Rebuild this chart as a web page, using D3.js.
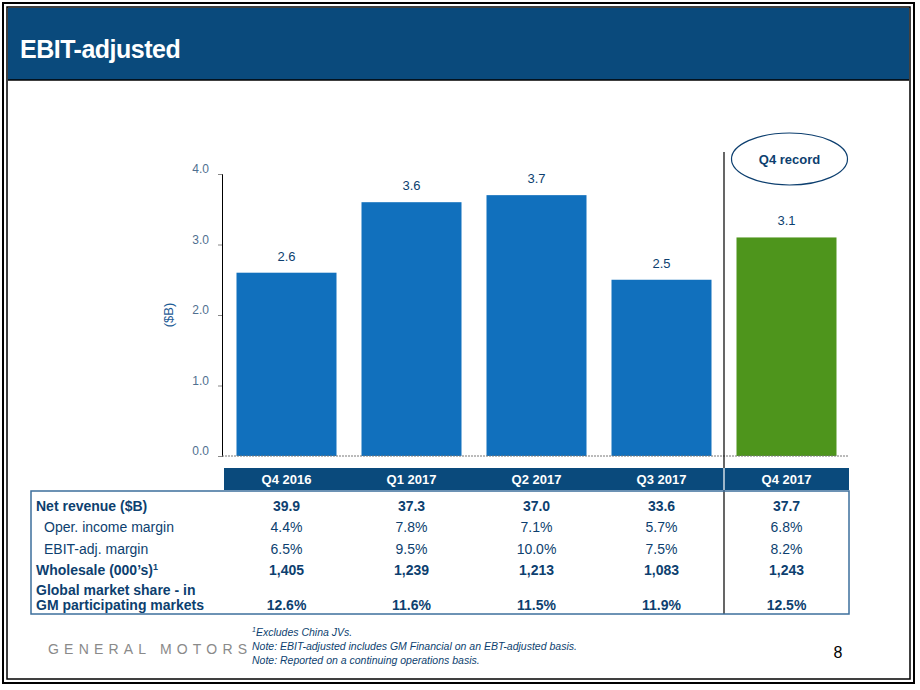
<!DOCTYPE html>
<html>
<head>
<meta charset="utf-8">
<script src="https://cdn.jsdelivr.net/npm/d3@7"></script>
<style>
  body { margin: 0; background: #fff; }
  text { font-family: Arial, "Liberation Sans", sans-serif; }
</style>
</head>
<body>
<div id="chart"></div>
<script>
// Chart data
const quarters = ["Q4 2016", "Q1 2017", "Q2 2017", "Q3 2017", "Q4 2017"];
const ebitValues = [2.6, 3.6, 3.7, 2.5, 3.1];
const yTicks = [0, 1, 2, 3, 4];

// Table data
const rowLabels = ["Net revenue ($B)", "Oper. income margin", "EBIT-adj. margin", "Wholesale (000\u2019s)", "Global market share - in|GM participating markets"];
const netRevenue = ["39.9", "37.3", "37.0", "33.6", "37.7"];
const operMargin = ["4.4%", "7.8%", "7.1%", "5.7%", "6.8%"];
const ebitMargin = ["6.5%", "9.5%", "10.0%", "7.5%", "8.2%"];
const wholesale = ["1,405", "1,239", "1,213", "1,083", "1,243"];
const marketShare = ["12.6%", "11.6%", "11.5%", "11.9%", "12.5%"];

const W = 920, H = 690;
const navy = "#0a4a7c", barBlue = "#1170bd", barGreen = "#4e951c", txt = "#0d3f6f";

const svg = d3.select("#chart").append("svg").attr("width", W).attr("height", H);

// Frame
svg.append("rect").attr("x", 3).attr("y", 3).attr("width", 911).attr("height", 680)
  .attr("fill", "none").attr("stroke", "#000").attr("stroke-width", 2);
svg.append("rect").attr("x", 7).attr("y", 7).attr("width", 903).attr("height", 672)
  .attr("fill", "none").attr("stroke", "#000").attr("stroke-width", 1.5);

// Header
svg.append("rect").attr("x", 8).attr("y", 8).attr("width", 901).attr("height", 72).attr("fill", navy);
svg.append("line").attr("x1", 8).attr("x2", 909).attr("y1", 80).attr("y2", 80).attr("stroke", "#000").attr("stroke-width", 1.5);
svg.append("text").attr("x", 20).attr("y", 58).attr("fill", "#fff")
  .attr("font-size", 25).attr("font-weight", "bold").attr("letter-spacing", -0.5).text("EBIT-adjusted");

// Scales
const x = d3.scaleBand().domain(quarters).range([224, 849]).paddingInner(0.2).paddingOuter(0.1);
const y = d3.scaleLinear().domain([0, 4]).range([456, 174]);

// Y axis
const yAxis = svg.append("g").attr("transform", "translate(222,0)")
  .call(d3.axisLeft(y).tickValues(yTicks).tickFormat(d3.format(".1f")).tickSize(4));
yAxis.select(".domain").attr("stroke", "#000");
yAxis.selectAll("line").attr("stroke", "#888");
yAxis.selectAll("text").attr("fill", "#4f6f90").attr("font-size", 12).attr("dx", -6).attr("dy", "-0.1em");

svg.append("text").attr("transform", "translate(173,315) rotate(-90)")
  .attr("text-anchor", "middle").attr("fill", "#1f5c96").attr("font-size", 13).text("($B)");

// Bars
svg.selectAll(".bar").data(ebitValues).enter().append("rect")
  .attr("x", (d, i) => x(quarters[i]))
  .attr("y", d => y(d))
  .attr("width", x.bandwidth())
  .attr("height", d => y(0) - y(d))
  .attr("fill", (d, i) => i === quarters.length - 1 ? barGreen : barBlue);

svg.selectAll(".vlabel").data(ebitValues).enter().append("text")
  .attr("x", (d, i) => x(quarters[i]) + x.bandwidth() / 2)
  .attr("y", d => y(d) - 12)
  .attr("text-anchor", "middle").attr("fill", txt).attr("font-size", 13)
  .text(d => d.toFixed(1));

// Baseline
svg.append("line").attr("x1", 222).attr("x2", 849).attr("y1", y(0)).attr("y2", y(0))
  .attr("stroke", "#777").attr("stroke-dasharray", "2,1");

// Separator line
const sepX = x(quarters[4]) - (x.step() - x.bandwidth()) / 2;
svg.append("line").attr("x1", sepX).attr("x2", sepX).attr("y1", 152).attr("y2", 614)
  .attr("stroke", "#000").attr("stroke-width", 1.2);

// Record callout
svg.append("ellipse").attr("cx", x(quarters[4]) + x.bandwidth() / 2 + 3).attr("cy", 159)
  .attr("rx", 58).attr("ry", 26).attr("fill", "none").attr("stroke", txt).attr("stroke-width", 1.2);
svg.append("text").attr("x", x(quarters[4]) + x.bandwidth() / 2 + 3).attr("y", 164)
  .attr("text-anchor", "middle").attr("fill", txt).attr("font-size", 13).attr("font-weight", "bold").text("Q4 record");

// Table header band
svg.append("rect").attr("x", 224).attr("y", 468).attr("width", 625).attr("height", 22).attr("fill", navy);
svg.selectAll(".qlabel").data(quarters).enter().append("text")
  .attr("x", d => x(d) + x.bandwidth() / 2).attr("y", 484)
  .attr("text-anchor", "middle").attr("fill", "#fff").attr("font-size", 13).attr("font-weight", "bold")
  .text(d => d);
svg.append("line").attr("x1", sepX).attr("x2", sepX).attr("y1", 468).attr("y2", 490)
  .attr("stroke", "#fff").attr("stroke-width", 1.2);

// Table box
svg.append("rect").attr("x", 31).attr("y", 491).attr("width", 818).attr("height", 123)
  .attr("fill", "none").attr("stroke", "#3d6f9c").attr("stroke-width", 1.5);

const rows = [
  { label: rowLabels[0], vals: netRevenue, bold: true, indent: 0, y: 511 },
  { label: rowLabels[1], vals: operMargin, bold: false, indent: 8, y: 532 },
  { label: rowLabels[2], vals: ebitMargin, bold: false, indent: 8, y: 554 },
  { label: rowLabels[3], vals: wholesale, bold: true, indent: 0, y: 575, sup: "1" },
  { label: rowLabels[4], vals: marketShare, bold: true, indent: 0, y: 610 }
];

rows.forEach(r => {
  const lines = r.label.split("|");
  const t = svg.append("text").attr("x", 36 + r.indent).attr("fill", txt).attr("font-size", 14)
    .attr("font-weight", r.bold ? "bold" : "normal");
  lines.forEach((l, i) => {
    t.append("tspan").attr("x", 36 + r.indent)
      .attr("y", r.y - (lines.length - 1 - i) * 15).text(l);
  });
  if (r.sup) t.append("tspan").attr("font-size", 9).attr("dy", -5).text(r.sup);
  svg.selectAll(null).data(r.vals).enter().append("text")
    .attr("x", (d, i) => x(quarters[i]) + x.bandwidth() / 2).attr("y", r.y)
    .attr("text-anchor", "middle").attr("fill", txt).attr("font-size", 14)
    .attr("font-weight", r.bold ? "bold" : "normal").text(d => d);
});

// Footer
svg.append("text").attr("x", 48).attr("y", 654).attr("fill", "#8a8a8a").attr("font-size", 14)
  .attr("letter-spacing", 5.2).text("GENERAL MOTORS");
const notes = [
  { t: "Excludes China JVs.", sup: "1", y: 636 },
  { t: "Note: EBIT-adjusted includes GM Financial on an EBT-adjusted basis.", y: 650 },
  { t: "Note: Reported on a continuing operations basis.", y: 664 }
];
notes.forEach(n => {
  const t = svg.append("text").attr("x", 252).attr("y", n.y).attr("fill", txt)
    .attr("font-size", 10.5).attr("font-style", "italic");
  if (n.sup) t.append("tspan").attr("font-size", 7).attr("dy", -4).text(n.sup);
  t.append("tspan").attr("dy", n.sup ? 4 : 0).text(n.t);
});
svg.append("text").attr("x", 838).attr("y", 658).attr("text-anchor", "middle").attr("font-size", 16).text("8");
</script>
</body>
</html>
